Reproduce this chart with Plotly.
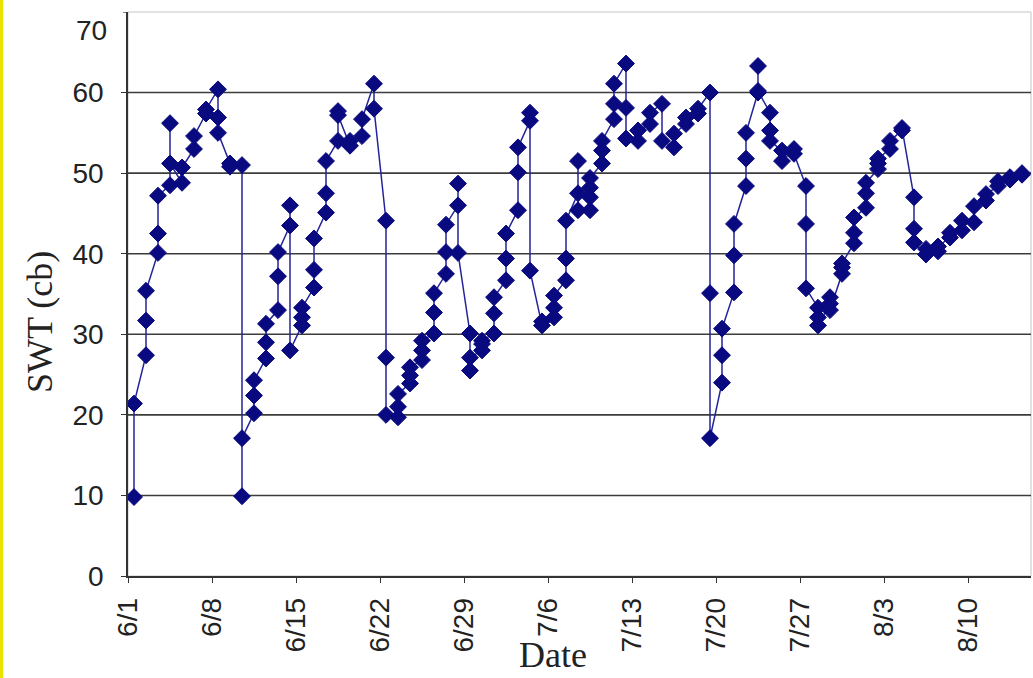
import pandas as pd
import plotly.graph_objects as go

# Soil water tension readings (cb); several readings can share one date
YEAR = 2010
reading_dates = (
    ["6/1"] * 2 + ["6/2"] * 3 + ["6/3"] * 3 + ["6/4"] * 3 + ["6/5"] * 2 + ["6/6"] * 2
    + ["6/7"] * 2 + ["6/8"] * 3 + ["6/9"] * 2 + ["6/10"] * 3 + ["6/11"] * 3 + ["6/12"] * 3
    + ["6/13"] * 3 + ["6/14"] * 3 + ["6/15"] * 3 + ["6/16"] * 3 + ["6/17"] * 3 + ["6/18"] * 3
    + ["6/19"] * 2 + ["6/20"] * 2 + ["6/21"] * 2 + ["6/22"] * 3 + ["6/23"] * 3 + ["6/24"] * 3
    + ["6/25"] * 3 + ["6/26"] * 3 + ["6/27"] * 3 + ["6/28"] * 3 + ["6/29"] * 3 + ["6/30"] * 3
    + ["7/1"] * 3 + ["7/2"] * 3 + ["7/3"] * 3 + ["7/4"] * 3 + ["7/5"] * 2 + ["7/6"] * 3
    + ["7/7"] * 3 + ["7/8"] * 3 + ["7/9"] * 4 + ["7/10"] * 3 + ["7/11"] * 3 + ["7/12"] * 3
    + ["7/13"] * 2 + ["7/14"] * 2 + ["7/15"] * 2 + ["7/16"] * 2 + ["7/17"] * 2 + ["7/18"] * 2
    + ["7/19"] * 3 + ["7/20"] * 3 + ["7/21"] * 3 + ["7/22"] * 3 + ["7/23"] * 3 + ["7/24"] * 3
    + ["7/25"] * 2 + ["7/26"] * 2 + ["7/27"] * 3 + ["7/28"] * 3 + ["7/29"] * 3 + ["7/30"] * 3
    + ["7/31"] * 3 + ["8/1"] * 3 + ["8/2"] * 3 + ["8/3"] * 2 + ["8/4"] * 2 + ["8/5"] * 3
    + ["8/6"] * 2 + ["8/7"] * 2 + ["8/8"] * 2 + ["8/9"] * 2 + ["8/10"] * 2 + ["8/11"] * 2
    + ["8/12"] * 2 + ["8/13"] * 2 + ["8/14"] * 2
)
swt_cb = [
    9.8, 21.4,
    27.4, 31.7, 35.4,
    40.1, 42.5, 47.2,
    48.5, 56.2, 51.2,
    48.8, 50.7,
    53.0, 54.6,
    57.4, 57.9,
    60.4, 56.9, 55.0,
    51.2, 50.8,
    51.0, 9.9, 17.1,
    20.2, 22.4, 24.3,
    27.0, 29.0, 31.3,
    33.0, 37.2, 40.2,
    43.5, 46.0, 28.0,
    31.1, 32.1, 33.3,
    35.8, 38.0, 41.9,
    45.1, 47.5, 51.5,
    54.0, 57.7, 57.2,
    53.4, 54.0,
    54.6, 56.7,
    61.1, 58.0,
    44.1, 27.1, 20.0,
    19.7, 21.0, 22.6,
    23.9, 24.9, 25.9,
    26.8, 28.0, 29.2,
    30.1, 32.7, 35.1,
    37.5, 40.2, 43.6,
    46.0, 48.7, 40.1,
    30.1, 25.5, 27.1,
    28.0, 28.8, 29.2,
    30.1, 32.6, 34.6,
    36.7, 39.4, 42.5,
    45.4, 50.1, 53.2,
    56.5, 57.5, 37.9,
    31.1, 31.6,
    32.1, 33.3, 34.8,
    36.7, 39.4, 44.1,
    47.5, 51.5, 45.4,
    45.4, 47.0, 48.2, 49.4,
    51.2, 52.8, 54.0,
    56.7, 58.6, 61.1,
    63.6, 58.1, 54.3,
    54.0, 55.3,
    56.1, 57.5,
    58.6, 54.0,
    53.2, 54.9,
    56.1, 56.9,
    57.4, 58.0,
    60.0, 35.1, 17.1,
    24.0, 27.4, 30.7,
    35.2, 39.8, 43.7,
    48.4, 51.8, 55.0,
    60.0, 63.3, 60.2,
    57.5, 55.3, 54.0,
    52.8, 51.5,
    53.0, 52.4,
    48.4, 43.7, 35.7,
    33.3, 32.1, 31.1,
    33.8, 34.6, 33.0,
    37.5, 38.3, 38.8,
    41.3, 42.6, 44.5,
    45.7, 47.5, 48.8,
    50.5, 51.2, 51.8,
    53.0, 54.0,
    55.3, 55.6,
    47.0, 43.1, 41.4,
    39.9, 40.6,
    40.3, 40.9,
    42.0, 42.6,
    42.9, 44.1,
    43.9, 45.9,
    46.6, 47.4,
    48.4, 49.0,
    49.2, 49.5,
    49.8, 50.0,
]

y_ticks = [0, 10, 20, 30, 40, 50, 60]
y_top = 70
grid_levels = [10, 20, 30, 40, 50, 60]
axis_start, axis_end = "6/1", "8/15"

NAVY = "#0a0a80"
TICK_FONT = dict(family="Liberation Sans, Arial, sans-serif", size=28, color="#222222")
TITLE_FONT = dict(family="Liberation Serif, Times New Roman, serif", size=36, color="#222222")


def to_date(md):
    return pd.Timestamp(f"{YEAR}/{md}")


# each date occupies a one-day slot; readings sit in the middle of it
x_vals = [to_date(d) + pd.Timedelta(hours=12) for d in reading_dates]

fig = go.Figure()
fig.add_trace(go.Scatter(
    x=x_vals, y=swt_cb, mode="lines+markers",
    line=dict(color="#24249a", width=1.5),
    marker=dict(symbol="diamond", size=13, color=NAVY, line=dict(color=NAVY, width=1)),
    showlegend=False,
))

W, H = 1033, 678
ML, MR, MT, MB = 128, 2, 12, 102
plot_w, plot_h = W - ML - MR, H - MT - MB

shapes = [
    # plot area border
    dict(type="rect", xref="paper", yref="paper", x0=0, x1=1, y0=0, y1=1,
         line=dict(color="#c4c4c4", width=1), layer="below"),
]
for g in grid_levels:
    shapes.append(dict(type="line", xref="paper", yref="y", x0=0, x1=1, y0=g, y1=g,
                       line=dict(color="#3c3c3c", width=1.6), layer="below"))
# tick mark for the top value of the axis
shapes.append(dict(type="line", xref="paper", yref="y", x0=-5 / plot_w, x1=0, y0=y_top, y1=y_top,
                   line=dict(color="#333333", width=1.2)))
# yellow page edge at the left
shapes.append(dict(type="line", xref="paper", yref="paper",
                   x0=(1.5 - ML) / plot_w, x1=(1.5 - ML) / plot_w,
                   y0=-MB / plot_h, y1=1 + MT / plot_h,
                   line=dict(color="#e8e400", width=3)))

fig.update_layout(
    width=W, height=H,
    margin=dict(l=ML, r=MR, t=MT, b=MB),
    paper_bgcolor="white", plot_bgcolor="white",
    shapes=shapes,
    annotations=[
        dict(text="Date", xref="paper", yref="paper", x=(553 - ML) / plot_w, y=0,
             yshift=-MB + 1, showarrow=False, xanchor="center", yanchor="bottom", font=TITLE_FONT),
        dict(text="SWT (cb)", xref="paper", yref="paper", x=(40 - ML) / plot_w,
             y=(H - MB - 322) / plot_h, textangle=-90, showarrow=False,
             xanchor="center", yanchor="middle", font=TITLE_FONT),
        # top value label, set just inside the plot's top edge
        dict(text=str(y_top), xref="paper", yref="y", x=0, y=y_top, xshift=-19,
             yshift=-18, showarrow=False, xanchor="right", yanchor="middle", font=TICK_FONT),
    ],
)

fig.update_xaxes(
    type="date",
    range=[to_date(axis_start), to_date(axis_end) + pd.Timedelta(hours=6)],
    tick0=to_date(axis_start), dtick=7 * 86400000, tickformat="%-m/%-d",
    tickangle=-90, tickfont=TICK_FONT,
    ticks="outside", ticklen=5, tickcolor="#333333", tickwidth=1.2,
    ticklabelstandoff=4,
    showgrid=False, zeroline=False,
    showline=True, linecolor="#333333", linewidth=1.6,
)
fig.update_yaxes(
    range=[0, y_top], tickvals=y_ticks, tickfont=TICK_FONT,
    ticks="outside", ticklen=5, tickcolor="#333333", tickwidth=1.2,
    ticklabelstandoff=12,
    showgrid=False, zeroline=False,
    showline=True, linecolor="#333333", linewidth=1.6,
)

fig.write_html("out.html")
